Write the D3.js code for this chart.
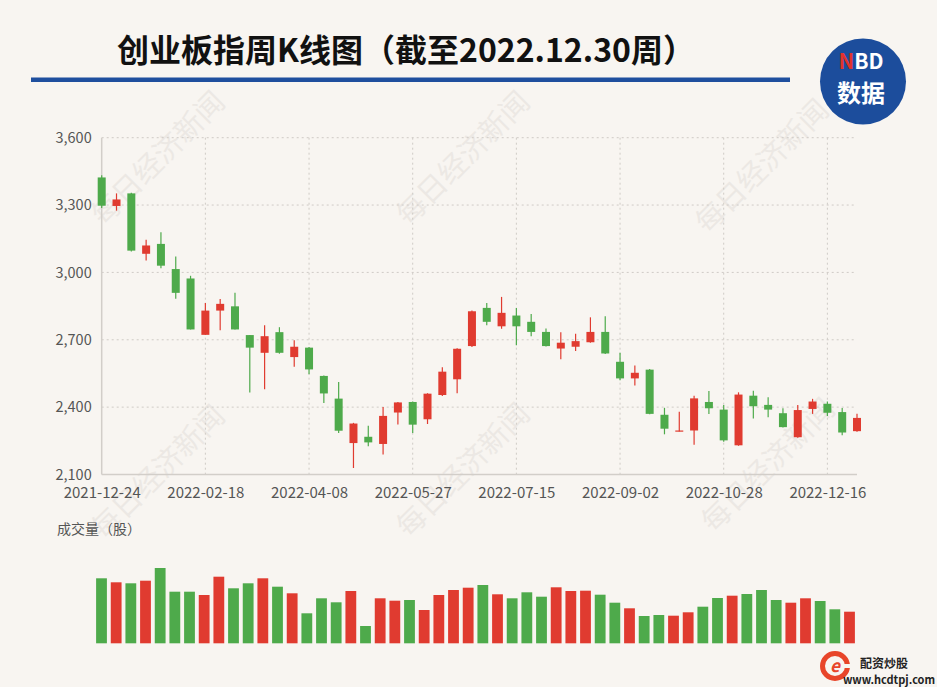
<!DOCTYPE html>
<html>
<head>
<meta charset="utf-8">
<script src="https://cdn.jsdelivr.net/npm/d3@7"></script>
<style>
  html, body { margin: 0; padding: 0; background: #f8f5f1; }
  svg { display: block; }
  text { font-family: "Noto Sans CJK SC", "Noto Sans", sans-serif; }
</style>
</head>
<body>
<div id="chart"></div>
<script>
// weekly K-line, ChiNext index
const weeks = [
  '2021-12-24', '2021-12-31', '2022-01-07', '2022-01-14', '2022-01-21', '2022-01-28',
  '2022-02-11', '2022-02-18', '2022-02-25', '2022-03-04', '2022-03-11', '2022-03-18',
  '2022-03-25', '2022-04-01', '2022-04-08', '2022-04-15', '2022-04-22', '2022-04-29',
  '2022-05-06', '2022-05-13', '2022-05-20', '2022-05-27', '2022-06-02', '2022-06-10',
  '2022-06-17', '2022-06-24', '2022-07-01', '2022-07-08', '2022-07-15', '2022-07-22',
  '2022-07-29', '2022-08-05', '2022-08-12', '2022-08-19', '2022-08-26', '2022-09-02',
  '2022-09-09', '2022-09-16', '2022-09-23', '2022-09-30', '2022-10-14', '2022-10-21',
  '2022-10-28', '2022-11-04', '2022-11-11', '2022-11-18', '2022-11-25', '2022-12-02',
  '2022-12-09', '2022-12-16', '2022-12-23', '2022-12-30'
];
const openVals = [
  3423, 3296, 3352, 3083, 3127, 3015, 2973, 2722, 2830, 2849, 2721, 2642,
  2734, 2623, 2665, 2539, 2438, 2240, 2268, 2236, 2376, 2423, 2346, 2454,
  2524, 2672, 2842, 2760, 2808, 2780, 2735, 2661, 2669, 2689, 2735, 2602,
  2528, 2567, 2366, 2292, 2296, 2423, 2389, 2230, 2451, 2410, 2373, 2266,
  2392, 2415, 2378, 2293
];
const closeVals = [
  3297, 3325, 3097, 3120, 3030, 2909, 2746, 2830, 2860, 2746, 2665, 2716,
  2642, 2669, 2568, 2461, 2295, 2327, 2243, 2361, 2421, 2322, 2460, 2558,
  2660, 2827, 2780, 2820, 2760, 2735, 2672, 2687, 2694, 2735, 2639, 2528,
  2553, 2370, 2304, 2296, 2439, 2395, 2252, 2456, 2404, 2389, 2311, 2387,
  2425, 2375, 2287, 2352
];
const lowVals = [
  3287, 3275, 3093, 3053, 3019, 2883, 2746, 2722, 2743, 2746, 2465, 2480,
  2638, 2580, 2546, 2418, 2285, 2129, 2226, 2189, 2323, 2285, 2325, 2450,
  2462, 2668, 2765, 2749, 2676, 2716, 2670, 2613, 2650, 2687, 2637, 2520,
  2496, 2368, 2279, 2292, 2233, 2369, 2246, 2228, 2349, 2355, 2309, 2264,
  2370, 2360, 2275, 2290
];
const highVals = [
  3433, 3352, 3355, 3145, 3179, 3071, 2985, 2864, 2882, 2909, 2721, 2765,
  2756, 2698, 2668, 2541, 2512, 2330, 2317, 2401, 2423, 2425, 2462, 2578,
  2662, 2830, 2864, 2891, 2842, 2815, 2750, 2734, 2727, 2800, 2805, 2642,
  2585, 2570, 2397, 2380, 2451, 2472, 2410, 2466, 2473, 2444, 2395, 2410,
  2437, 2425, 2396, 2371
];
// volume, relative units
const volumes = [
  650, 610, 600, 626, 753, 516, 516, 483, 666, 550, 600, 650,
  566, 500, 300, 450, 410, 523, 173, 450, 426, 433, 333, 483,
  533, 556, 583, 490, 450, 510, 466, 560, 523, 526, 486, 406,
  350, 273, 283, 276, 310, 366, 453, 476, 493, 533, 433, 406,
  450, 423, 340, 316
];
const priceTicks = [2100, 2400, 2700, 3000, 3300, 3600];
const labelWeeks = weeks.filter((d, i) => i % 7 === 0);

const titleText = '创业板指周K线图（截至2022.12.30周）';
const volumeTitle = '成交量（股）';
const watermark = '每日经济新闻';

(function () {
  const W = 937, H = 687;
  const RED = '#e03b30', GREEN = '#4eaa4b', GRID = '#cfcbc6';
  const NUM_FONT = '"Noto Sans", "Noto Sans CJK SC", sans-serif';

  const svg = d3.select('#chart').append('svg')
    .attr('width', W).attr('height', H);

  svg.append('rect').attr('width', W).attr('height', H).attr('fill', '#f8f5f1');

  // faint watermarks
  const wm = svg.append('g').attr('class', 'watermark');
  [[158, 158], [463, 158], [762, 166], [158, 472], [463, 470], [768, 465]].forEach(([cx, cy]) => {
    wm.append('text')
      .attr('transform', `translate(${cx},${cy}) rotate(-45)`)
      .attr('text-anchor', 'middle')
      .attr('dy', '0.35em')
      .attr('font-size', 29)
      .attr('font-family', '"DejaVu Serif", serif')
      .attr('fill', '#bdb8b2')
      .attr('opacity', 0.2)
      .text(watermark);
  });

  // header
  svg.append('text')
    .attr('x', 406).attr('y', 62)
    .attr('text-anchor', 'middle')
    .attr('font-size', 32)
    .attr('font-weight', 700)
    .attr('fill', '#111')
    .text(titleText);

  svg.append('rect')
    .attr('x', 31).attr('y', 77.5)
    .attr('width', 759).attr('height', 4.5)
    .attr('fill', '#1f4f9e');

  const logo = svg.append('g');
  logo.append('circle').attr('cx', 863).attr('cy', 81.5).attr('r', 43).attr('fill', '#1c4d9c');
  const nbd = logo.append('text')
    .attr('x', 861).attr('y', 69)
    .attr('text-anchor', 'middle')
    .attr('font-size', 21).attr('font-weight', 700)
    .attr('font-family', 'Roboto, sans-serif')
    .attr('fill', '#fff');
  nbd.append('tspan').attr('fill', '#e3322c').text('N');
  nbd.append('tspan').text('BD');
  logo.append('text')
    .attr('x', 861).attr('y', 102)
    .attr('text-anchor', 'middle')
    .attr('font-size', 24).attr('font-weight', 700)
    .attr('fill', '#fff')
    .text('数据');

  // price panel
  const x = d3.scalePoint().domain(weeks).range([101.7, 857]);
  const y = d3.scaleLinear().domain([2100, 3600]).range([474.5, 137.7]);

  const grid = svg.append('g').attr('class', 'grid');
  grid.selectAll('line.h')
    .data(priceTicks.slice(1))
    .join('line')
    .attr('class', 'h')
    .attr('x1', x(weeks[0])).attr('x2', 856)
    .attr('y1', d => y(d)).attr('y2', d => y(d))
    .attr('stroke', GRID).attr('stroke-width', 1)
    .attr('stroke-dasharray', '2,3');
  grid.selectAll('line.v')
    .data(labelWeeks.slice(1))
    .join('line')
    .attr('class', 'v')
    .attr('x1', d => x(d)).attr('x2', d => x(d))
    .attr('y1', y(3600)).attr('y2', y(2100))
    .attr('stroke', GRID).attr('stroke-width', 1)
    .attr('stroke-dasharray', '2,3');

  // y axis line and x axis line
  svg.append('line')
    .attr('x1', x(weeks[0])).attr('x2', x(weeks[0]))
    .attr('y1', y(3600)).attr('y2', y(2100))
    .attr('stroke', '#d2cec9').attr('stroke-width', 1.5);
  svg.append('line')
    .attr('x1', x(weeks[0])).attr('x2', 857)
    .attr('y1', y(2100)).attr('y2', y(2100))
    .attr('stroke', '#d2cec9').attr('stroke-width', 1.5);

  const yAxis = svg.append('g')
    .attr('transform', `translate(${x(weeks[0])},0)`)
    .call(d3.axisLeft(y).tickValues(priceTicks).tickFormat(d3.format(',')).tickSize(0).tickPadding(10));
  yAxis.select('.domain').remove();
  yAxis.selectAll('text')
    .attr('font-size', 14.5).attr('fill', '#555')
    .attr('font-family', NUM_FONT);

  const xAxis = svg.append('g')
    .attr('transform', `translate(0,${y(2100)})`)
    .call(d3.axisBottom(x).tickValues(labelWeeks).tickSize(0).tickPadding(13));
  xAxis.select('.domain').remove();
  xAxis.selectAll('text')
    .attr('font-size', 15).attr('fill', '#555')
    .attr('font-family', NUM_FONT);

  const rows = weeks.map((d, i) => ({
    date: d, open: openVals[i], close: closeVals[i], low: lowVals[i], high: highVals[i], vol: volumes[i]
  }));
  const colorOf = d => d.close >= d.open ? RED : GREEN;

  const candles = svg.append('g').attr('class', 'candles');
  candles.selectAll('line')
    .data(rows)
    .join('line')
    .attr('x1', d => x(d.date)).attr('x2', d => x(d.date))
    .attr('y1', d => y(d.high)).attr('y2', d => y(d.low))
    .attr('stroke', colorOf).attr('stroke-width', 1.2);
  const bodyW = 8;
  candles.selectAll('rect')
    .data(rows)
    .join('rect')
    .attr('x', d => x(d.date) - bodyW / 2)
    .attr('width', bodyW)
    .attr('y', d => y(Math.max(d.open, d.close)))
    .attr('height', d => Math.max(1.2, Math.abs(y(d.open) - y(d.close))))
    .attr('fill', colorOf);

  // volume panel
  svg.append('text')
    .attr('x', 57).attr('y', 534)
    .attr('font-size', 14).attr('fill', '#555')
    .text(volumeTitle);

  const xv = d3.scalePoint().domain(weeks).range([101.5, 849.5]);
  const yv = d3.scaleLinear().domain([0, 800]).range([643.3, 563.3]);
  const barW = 10.8;
  svg.append('g').attr('class', 'volume')
    .selectAll('rect')
    .data(rows)
    .join('rect')
    .attr('x', d => xv(d.date) - barW / 2)
    .attr('width', barW)
    .attr('y', d => yv(d.vol))
    .attr('height', d => yv(0) - yv(d.vol))
    .attr('fill', colorOf);

  // footer logo
  const foot = svg.append('g');
  foot.append('circle').attr('cx', 835).attr('cy', 666).attr('r', 12.5)
    .attr('fill', 'none').attr('stroke', '#e8452a').attr('stroke-width', 5);
  foot.append('rect').attr('x', 836).attr('y', 664).attr('width', 14).attr('height', 4).attr('fill', '#f8f5f1');
  foot.append('text')
    .attr('x', 835).attr('y', 672)
    .attr('text-anchor', 'middle')
    .attr('font-size', 17).attr('font-weight', 700).attr('font-style', 'italic')
    .attr('font-family', 'Arial, "Liberation Sans", sans-serif')
    .attr('fill', '#e8452a')
    .text('e');
  foot.append('text')
    .attr('x', 884).attr('y', 667.5)
    .attr('text-anchor', 'middle')
    .attr('font-size', 12).attr('font-weight', 700).attr('fill', '#222')
    .text('配资炒股');
  foot.append('text')
    .attr('x', 889).attr('y', 684)
    .attr('text-anchor', 'middle')
    .attr('font-size', 11).attr('font-weight', 700).attr('fill', '#222')
    .attr('font-family', '"Liberation Sans", Arial, sans-serif')
    .text('www.hcdtpj.com');
})();
</script>
</body>
</html>
